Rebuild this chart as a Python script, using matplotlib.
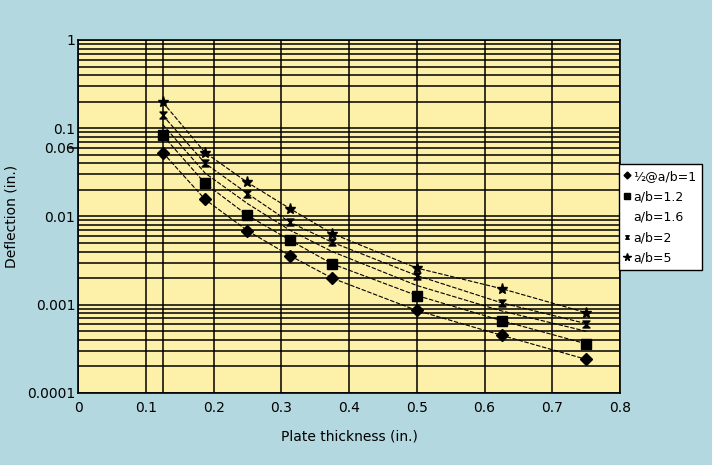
import numpy as np
import matplotlib
matplotlib.use("Agg")
import matplotlib.pyplot as plt
from matplotlib.path import Path
from matplotlib.ticker import FixedLocator, NullFormatter, LogLocator

plt.rcParams['font.family'] = ['DejaVu Sans']

# plate thickness (in.)
thickness = [0.125, 0.1875, 0.25, 0.3125, 0.375, 0.5, 0.625, 0.75]

# deflection (in.)
defl_1 = [0.053, 0.0156, 0.0069, 0.0036, 0.0020, 0.00086, 0.00045, 0.00024]
defl_12 = [0.083, 0.0237, 0.0103, 0.0054, 0.0029, 0.00127, 0.00066, 0.00036]
defl_16 = [0.11, 0.031, 0.014, 0.0070, 0.0040, 0.00165, 0.00085, 0.00050]
defl_2 = [0.14, 0.040, 0.0182, 0.0086, 0.0051, 0.00214, 0.00105, 0.00061]
defl_5 = [0.197, 0.053, 0.0243, 0.0123, 0.0064, 0.0026, 0.00152, 0.00081]

labels = ["\u00bd@a/b=1", "a/b=1.2", "a/b=1.6", "a/b=2", "a/b=5"]
series = [defl_1, defl_12, defl_16, defl_2, defl_5]

yticks = [0.0001, 0.001, 0.01, 0.06, 0.1, 1]
yticklabels = ["0.0001", "0.001", "0.01", "0.06", "0.1", "1"]
xticks = [0, 0.1, 0.2, 0.3, 0.4, 0.5, 0.6, 0.7, 0.8]

hourglass = Path([(-1, 1), (1, 1), (-1, -1), (1, -1), (-1, 1)],
                 [Path.MOVETO, Path.LINETO, Path.LINETO, Path.LINETO, Path.CLOSEPOLY])
markers = ['D', 's', 'None', hourglass, '*']
msizes = [6, 6.5, 0, 5, 8]

fig = plt.figure(figsize=(7.12, 4.65), dpi=100)
fig.patch.set_facecolor('#b3d8df')
ax = fig.add_axes([0.1096, 0.155, 0.7614, 0.759])
ax.set_facecolor('#fdf0a8')

ax.set_yscale('log')
ax.set_ylim(0.0001, 1)
ax.set_xlim(0, 0.8)

# grid: every minor log line and every 0.1 in x, plus a line at 0.125
ax.yaxis.set_major_locator(FixedLocator(yticks))
ax.yaxis.set_minor_locator(LogLocator(base=10, subs=np.arange(2, 10)))
ax.yaxis.set_minor_formatter(NullFormatter())
ax.set_yticklabels(yticklabels)
ax.set_xticks(xticks)
ax.set_xticklabels(["0", "0.1", "0.2", "0.3", "0.4", "0.5", "0.6", "0.7", "0.8"])
ax.grid(True, which='both', axis='y', color='black', linewidth=1.1)
ax.grid(True, which='major', axis='x', color='black', linewidth=1.1)
ax.axvline(0.125, color='black', linewidth=1.1)

ax.tick_params(axis='both', which='both', length=0, labelsize=10, pad=2)
ax.tick_params(axis='x', pad=6)
# the 0.06 tick line sticks out on the left
ax.plot([-0.012, 0], [0.06, 0.06], color='black', linewidth=1.1, clip_on=False)

for v, m, ms in zip(series, markers, msizes):
    ax.plot(thickness, v, color='black', linewidth=0.8, linestyle=(0, (4, 1.5)),
            marker=m, markersize=ms, markerfacecolor='black', markeredgecolor='black')

for s in ax.spines.values():
    s.set_color('black')
    s.set_linewidth(1.2)

ax.set_xlabel("Plate thickness (in.)", fontsize=10, labelpad=10)
ax.set_ylabel("Deflection (in.)", fontsize=10, labelpad=6)

handles = []
for lab, m, ms in zip(labels, markers, msizes):
    h, = ax.plot([], [], linestyle='None', marker=m, markersize=max(ms - 2.5, 0.1),
                 color='black', label=lab)
    handles.append(h)
leg = fig.legend(handles=handles, loc='upper left', bbox_to_anchor=(0.869, 0.647),
                 fontsize=9, frameon=True, fancybox=False, framealpha=1,
                 handlelength=0.4, handletextpad=0.3, borderpad=0.45,
                 labelspacing=0.6, borderaxespad=0)
leg.get_frame().set_edgecolor('black')
leg.get_frame().set_linewidth(1.0)
leg.get_frame().set_facecolor('white')

fig.savefig("out.png", dpi=100, facecolor=fig.get_facecolor())
